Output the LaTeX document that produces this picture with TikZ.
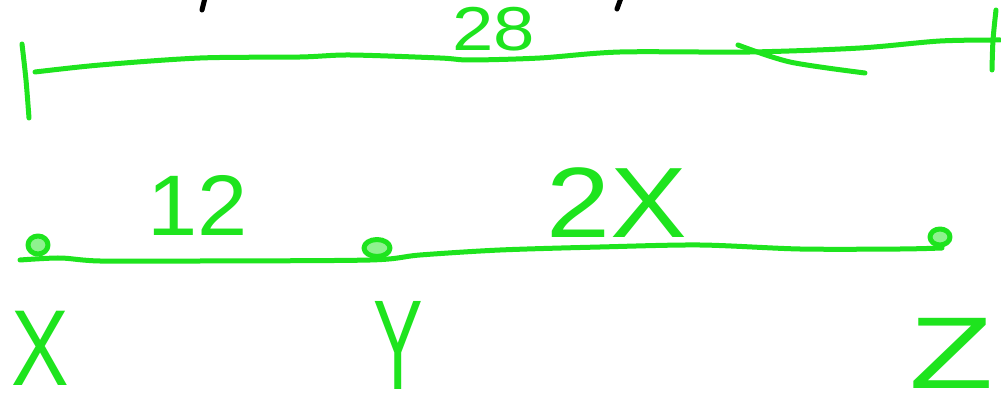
\documentclass[tikz,border=0pt]{standalone}
\usepackage{fontspec}
\setmainfont{Liberation Sans}
\usetikzlibrary{shapes.geometric}
\definecolor{pen}{RGB}{30,228,30}
\begin{document}
\begin{tikzpicture}[x=1pt,y=-1pt,
  stroke/.style={draw=pen,line width=5pt,line cap=round,line join=round},
  ink/.style={draw=black,line width=5pt,line cap=round},
  dot/.style={stroke,fill=pen!50!white,ellipse,inner sep=0pt},
  lbl/.style={text=pen,inner sep=0pt,anchor=center}]
\useasboundingbox[fill=white] (0,0) rectangle (1001,406);
% top segment
\draw[stroke] plot[smooth,tension=0.5] coordinates {(35,72) (100,65) (200,58) (300,57) (350,55) (440,58) (470,60) (540,58) (620,52) (750,52) (860,48) (940,41) (1000,40)};
\draw[stroke] plot[smooth] coordinates {(22,44) (26,80) (29,118)};
\draw[stroke] plot[smooth] coordinates {(996,10) (993,40) (992,70)};
\draw[stroke] plot[smooth] coordinates {(738,45) (790,62) (865,73)};
\draw[ink] (205,-2) -- (202,10);
\draw[ink] (621,-2) -- (617,9);
\node[lbl,font=\fontsize{62}{62}\selectfont,xscale=1.2] (n28) at (494,29) {28};
% bottom segment
\draw[stroke] plot[smooth,tension=0.5] coordinates {(20,260) (60,258) (100,261) (200,261) (370,260) (420,255) (500,250) (600,247) (700,245) (800,249) (900,249) (942,248)};
\node[dot,minimum width=20pt,minimum height=18pt] (x) at (38,245) {};
\node[dot,minimum width=26pt,minimum height=17pt] (y) at (377,248) {};
\node[dot,minimum width=20pt,minimum height=16pt] (z) at (940,237) {};
\node[lbl,font=\fontsize{86}{86}\selectfont,xscale=1.05] (n12) at (198,205) {12};
\node[lbl,font=\fontsize{100}{100}\selectfont,xscale=1.15] (n2x) at (617,203) {2X};
\node[lbl,font=\fontsize{108}{108}\selectfont,xscale=0.8] (lx) at (40,348) {X};
\node[lbl,font=\fontsize{128}{128}\selectfont,xscale=0.58] (ly) at (398,345) {Y};
\node[lbl,font=\fontsize{102}{102}\selectfont,xscale=1.35] (lz) at (952,353) {Z};
\end{tikzpicture}
\end{document}
